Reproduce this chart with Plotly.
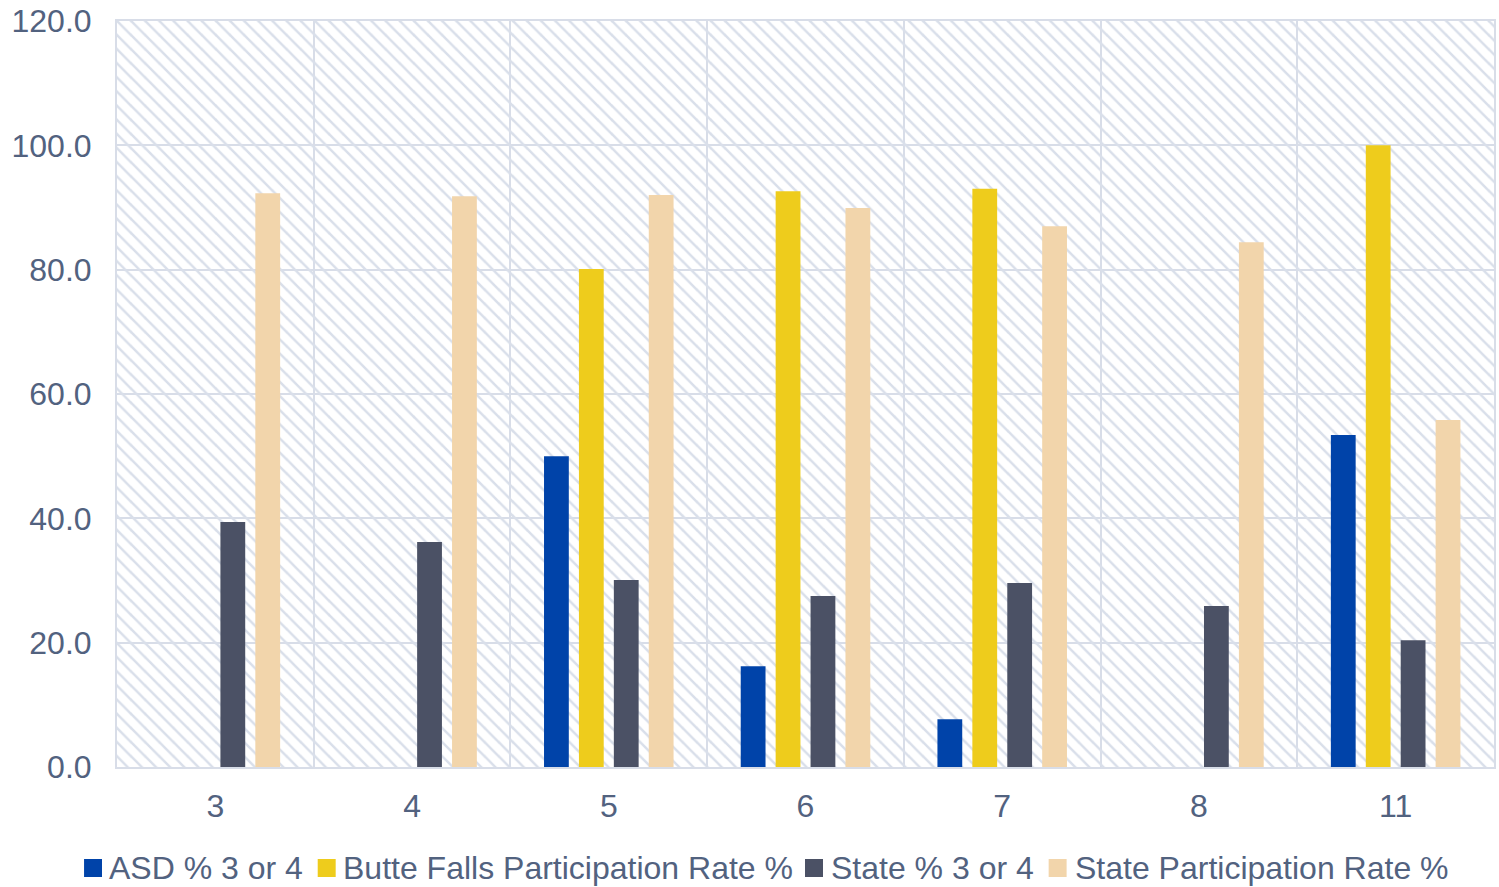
import plotly.graph_objects as go

# Grade levels and series values (percent)
grades = ["3", "4", "5", "6", "7", "8", "11"]
asd_pct_3_or_4 = [None, None, 50.0, 16.2, 7.7, None, 53.4]
butte_falls_participation = [None, None, 80.1, 92.6, 93.0, None, 100.0]
state_pct_3_or_4 = [39.4, 36.2, 30.1, 27.5, 29.6, 25.9, 20.4]
state_participation = [92.3, 91.8, 92.0, 89.9, 87.0, 84.4, 55.8]

series_names = [
    "ASD % 3 or 4",
    "Butte Falls Participation Rate %",
    "State % 3 or 4",
    "State Participation Rate %",
]
series_values = [asd_pct_3_or_4, butte_falls_participation, state_pct_3_or_4, state_participation]
series_colors = ["#0043A9", "#EECC1C", "#4B5165", "#F2D5AB"]

y_ticks = [0, 20, 40, 60, 80, 100, 120]

W, H = 1499, 887
M_L, M_R, M_T, M_B = 117, 3, 21, 120
PLOT_W = W - M_L - M_R
PLOT_H = H - M_T - M_B

FONT = "Liberation Sans, Arial, sans-serif"
FONT_SIZE = 32
TEXT_COLOR = "#52627F"
GRID_COLOR = "#D8DDE8"
HATCH_COLOR = "#D9DFEA"

fig = go.Figure()

# Hatched plot background: one full-width bar on a hidden numeric axis
fig.add_trace(go.Bar(
    x=[0.5], y=[y_ticks[-1]], width=[1.0],
    xaxis="x", yaxis="y",
    marker=dict(
        color=HATCH_COLOR,
        line=dict(width=0),
        pattern=dict(shape="\\", size=10, solidity=0.25, fillmode="replace"),
    ),
    hoverinfo="skip", showlegend=False,
))

# Data series on the categorical axis
for name, vals, col in zip(series_names, series_values, series_colors):
    fig.add_trace(go.Bar(
        x=grades, y=vals, name=name,
        xaxis="x2", yaxis="y",
        marker=dict(color=col, line=dict(width=0)),
        showlegend=False,
    ))

fig.update_layout(
    width=W, height=H,
    margin=dict(l=M_L, r=M_R, t=M_T, b=M_B),
    paper_bgcolor="white",
    plot_bgcolor="white",
    barmode="group",
    bargap=0.29,
    bargroupgap=0.29,
    font=dict(family=FONT, size=FONT_SIZE, color=TEXT_COLOR),
    xaxis=dict(
        range=[0, 1], visible=False, showgrid=False, zeroline=False, fixedrange=True,
    ),
    xaxis2=dict(
        overlaying="x", anchor="y", side="bottom",
        type="category",
        categoryorder="array", categoryarray=grades,
        tickson="boundaries",
        showgrid=True, gridcolor=GRID_COLOR, gridwidth=1.5,
        showline=True, linecolor=GRID_COLOR, linewidth=2, mirror=True,
        ticks="", ticklabelstandoff=10,
        tickfont=dict(family=FONT, size=FONT_SIZE, color=TEXT_COLOR),
        zeroline=False,
    ),
    yaxis=dict(
        range=[0, 120],
        tickvals=y_ticks,
        tickformat=".1f",
        showgrid=True, gridcolor=GRID_COLOR, gridwidth=1.5,
        showline=True, linecolor=GRID_COLOR, linewidth=2, mirror=True,
        zeroline=False,
        ticks="", ticklabelstandoff=17,
        tickfont=dict(family=FONT, size=FONT_SIZE, color=TEXT_COLOR),
    ),
)

# Legend row beneath the axis: colour swatches and labels (pixel layout)
legend_swatch_px = [84, 318, 806, 1050]
legend_text_px = [107, 341, 830, 1074]
LEG_Y_PX = 868
SW = 18


def px_to_paper_x(px):
    return (px - M_L) / PLOT_W


def px_to_paper_y(py):
    return (H - M_B - py) / PLOT_H


for name, col, sx, tx in zip(series_names, series_colors, legend_swatch_px, legend_text_px):
    fig.add_shape(
        type="rect", xref="paper", yref="paper",
        x0=px_to_paper_x(sx), x1=px_to_paper_x(sx + SW),
        y0=px_to_paper_y(LEG_Y_PX + SW / 2), y1=px_to_paper_y(LEG_Y_PX - SW / 2),
        fillcolor=col, line=dict(width=0),
    )
    fig.add_annotation(
        text=name, xref="paper", yref="paper",
        x=px_to_paper_x(tx), y=px_to_paper_y(LEG_Y_PX),
        xanchor="left", yanchor="middle", showarrow=False,
        font=dict(family=FONT, size=FONT_SIZE, color=TEXT_COLOR),
    )

fig.write_html("out.html")
